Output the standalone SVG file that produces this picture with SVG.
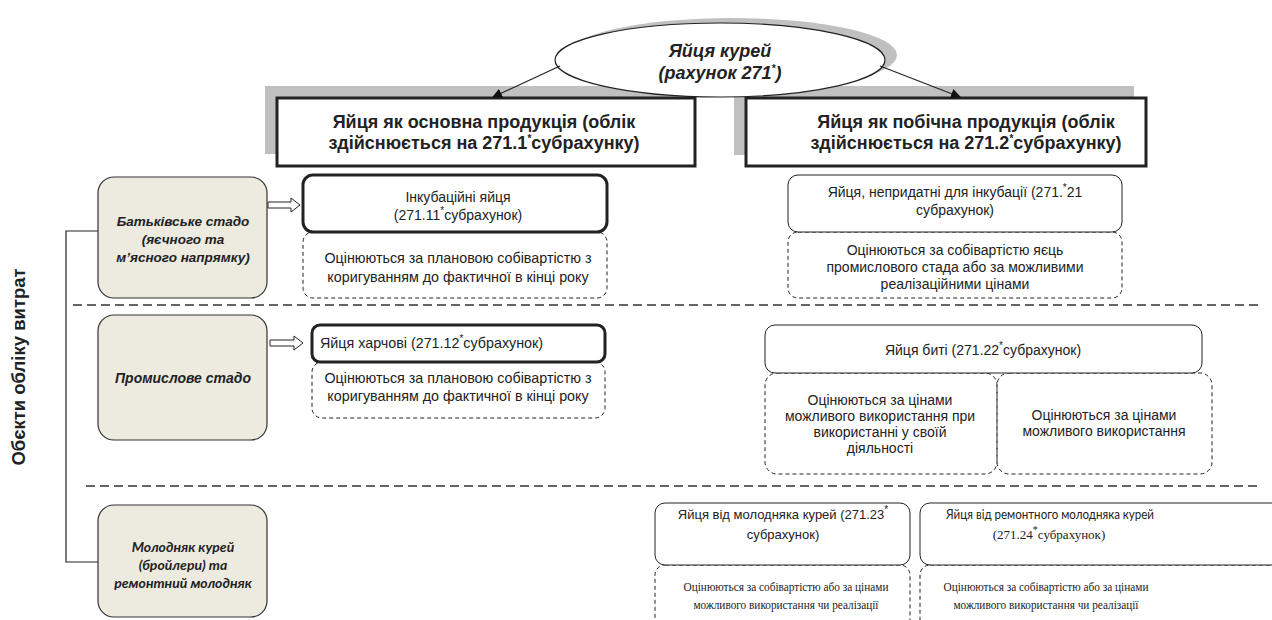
<svg xmlns="http://www.w3.org/2000/svg" width="1272" height="620" viewBox="0 0 1272 620">
<style>
text{font-family:"Liberation Sans",Arial,sans-serif;fill:#222}
.hdr{font-size:18px;font-weight:bold;text-anchor:middle}
.ell{font-size:18px;font-weight:bold;font-style:italic;text-anchor:middle}
.beige{fill:#EDEAE0;stroke:#333;stroke-width:1.2}
.bt{font-size:13.5px;font-weight:bold;font-style:italic;text-anchor:middle}
.btl{font-family:Lato,"Liberation Sans",sans-serif;font-size:14px;font-weight:bold;font-style:italic;text-anchor:middle}
.solid{fill:#fff;stroke:#222;stroke-width:1}
.thick{fill:#fff;stroke:#222;stroke-width:3}
.dash{fill:none;stroke:#222;stroke-width:1;stroke-dasharray:4 3}
.t14{font-size:14px;text-anchor:middle}
.t13{font-size:13px;text-anchor:middle}
.ser{font-family:"Liberation Serif","Times New Roman",serif;font-size:13px;text-anchor:middle}
.nar{font-family:Lato,"Liberation Sans",sans-serif;font-size:13px;text-anchor:middle}
.sep{stroke:#333;stroke-width:1.3;stroke-dasharray:9 5;fill:none}
.sup{font-size:10px}
.blk{fill:#fff;stroke:#222;stroke-width:1}
.shadow{fill:#C0C0C0}
</style>
<defs>
<marker id="ah" markerWidth="10" markerHeight="10" refX="9" refY="5" orient="auto" markerUnits="userSpaceOnUse">
<path d="M0,0 L10,5 L0,10 Z" fill="#111"/>
</marker>
</defs>

<g id="header-left">
<rect class="shadow" x="265" y="86" width="418" height="68"/>
<rect class="thick" x="277" y="98" width="418" height="68"/>
<text class="hdr" x="484" y="128">Яйця як основна продукція (облік</text>
<text class="hdr" x="484" y="149">здійснюється на 271.1<tspan class="sup" dy="-7">*</tspan><tspan dy="7">субрахунку)</tspan></text>
</g>
<g id="header-right">
<rect class="shadow" x="734" y="86" width="400" height="69"/>
<rect class="thick" x="746" y="98" width="400" height="68"/>
<text class="hdr" x="966" y="128">Яйця як побічна продукція (облік</text>
<text class="hdr" x="966" y="149">здійснюється на 271.2<tspan class="sup" dy="-7">*</tspan><tspan dy="7">субрахунку)</tspan></text>
</g>

<g id="root">
<ellipse class="shadow" cx="732" cy="55" rx="165" ry="37"/>
<ellipse cx="720" cy="60" rx="165" ry="37" fill="#fff" stroke="#222" stroke-width="1.2"/>
<text class="ell" x="720" y="57">Яйця курей</text>
<text class="ell" x="720" y="79">(рахунок 271<tspan class="sup" dy="-7">*</tspan><tspan dy="7">)</tspan></text>
</g>

<g id="connectors">
<line x1="560" y1="66" x2="493" y2="97" stroke="#222" stroke-width="1.2" marker-end="url(#ah)"/>
<line x1="880" y1="66" x2="960" y2="97" stroke="#222" stroke-width="1.2" marker-end="url(#ah)"/>
<path d="M98,231 H66 V562 H98" fill="none" stroke="#222" stroke-width="1.2"/>
<path class="blk" d="M268,202 H291 V198 L300,205 L291,212 V208 H268 Z"/>
<path class="blk" d="M270,340 H294 V336 L303,343 L294,350 V346 H270 Z"/>
</g>

<g id="separators">
<line class="sep" x1="73" y1="305" x2="1262" y2="305"/>
<line class="sep" x1="86" y1="486" x2="1262" y2="486"/>
</g>

<g id="axis-label">
<text transform="translate(25,367) rotate(-90)" style="font-size:18.5px;font-weight:bold;text-anchor:middle">Обєкти обліку витрат</text>
</g>

<g id="parent-flock">
<rect class="beige" x="98" y="177" width="169" height="121" rx="16"/>
<text class="bt" x="183" y="226">Батьківське стадо</text>
<text class="bt" x="183" y="244">(яєчного та</text>
<text class="bt" x="183" y="262">м’ясного напрямку)</text>
</g>
<g id="industrial-flock">
<rect class="beige" x="98" y="315" width="169" height="125" rx="16"/>
<text class="bt" x="183" y="383" style="font-size:14px">Промислове стадо</text>
</g>
<g id="young-flock">
<rect class="beige" x="98" y="505" width="169" height="112" rx="16"/>
<text class="btl" x="183" y="552">Молодняк курей</text>
<text class="btl" x="183" y="570">(бройлери) та</text>
<text class="btl" x="183" y="588">ремонтний молодняк</text>
</g>

<g id="incubation">
<rect class="dash" x="303" y="232" width="304" height="66" rx="10"/>
<rect class="thick" x="303" y="175" width="304" height="57" rx="10"/>
<text class="t14" x="458" y="202">Інкубаційні яйця</text>
<text class="t14" x="458" y="220">(271.11<tspan class="sup" dy="-6">*</tspan><tspan dy="6">субрахунок)</tspan></text>
<text class="t14" x="458" y="263" style="font-size:14.3px">Оцінюються за плановою собівартістю з</text>
<text class="t14" x="458" y="282" style="font-size:14.3px">коригуванням до фактичної в кінці року</text>
</g>

<g id="unfit">
<rect class="dash" x="788" y="232" width="334" height="66" rx="10"/>
<rect class="solid" x="788" y="175" width="334" height="57" rx="10"/>
<text class="t14" x="955" y="197">Яйця, непридатні для інкубації (271.<tspan class="sup" dy="-6">*</tspan><tspan dy="6">21</tspan></text>
<text class="t14" x="955" y="215">субрахунок)</text>
<text class="t14" x="955" y="255">Оцінюються за собівартістю яєць</text>
<text class="t14" x="955" y="272">промислового стада або за можливими</text>
<text class="t14" x="955" y="289">реалізаційними цінами</text>
</g>

<g id="food">
<rect class="dash" x="312" y="362" width="293" height="56" rx="10"/>
<rect class="thick" x="312" y="325" width="293" height="37" rx="8"/>
<text x="320" y="348" style="font-size:14.3px">Яйця харчові (271.12<tspan class="sup" dy="-6">*</tspan><tspan dy="6">субрахунок)</tspan></text>
<text class="t14" x="458" y="383" style="font-size:14.3px">Оцінюються за плановою собівартістю з</text>
<text class="t14" x="458" y="401" style="font-size:14.3px">коригуванням до фактичної в кінці року</text>
</g>

<g id="broken">
<rect class="dash" x="765" y="373" width="232" height="101" rx="12"/>
<rect class="dash" x="997" y="373" width="215" height="101" rx="12"/>
<rect class="solid" x="765" y="325" width="437" height="48" rx="10"/>
<text class="t14" x="983" y="355">Яйця биті (271.22<tspan class="sup" dy="-6">*</tspan><tspan dy="6">субрахунок)</tspan></text>
<text class="t14" x="880" y="405">Оцінюються за цінами</text>
<text class="t14" x="880" y="421">можливого використання при</text>
<text class="t14" x="880" y="437">використанні у своїй</text>
<text class="t14" x="880" y="453">діяльності</text>
<text class="t14" x="1104" y="420">Оцінюються за цінами</text>
<text class="t14" x="1104" y="436">можливого використання</text>
</g>

<g id="young-eggs">
<rect class="dash" x="655" y="565" width="255" height="70" rx="10"/>
<rect class="solid" x="655" y="503" width="255" height="62" rx="10"/>
<text class="t13" x="783" y="519">Яйця від молодняка курей (271.23<tspan class="sup" dy="-6">*</tspan></text>
<text class="t13" x="783" y="539">субрахунок)</text>
<text class="ser" x="786" y="591" textLength="205" lengthAdjust="spacingAndGlyphs">Оцінюються за собівартістю або за цінами</text>
<text class="ser" x="786" y="609" textLength="185" lengthAdjust="spacingAndGlyphs">можливого використання чи реалізації</text>
</g>

<g id="repair-eggs">
<rect class="dash" x="920" y="565" width="365" height="70" rx="10"/>
<rect class="solid" x="920" y="503" width="365" height="62" rx="10"/>
<text class="nar" x="1050" y="519" textLength="208" lengthAdjust="spacingAndGlyphs">Яйця від ремонтного молодняка курей</text>
<text class="ser" x="1049" y="539">(271.24<tspan class="sup" dy="-6">*</tspan><tspan dy="6">субрахунок)</tspan></text>
<text class="ser" x="1046" y="591" textLength="205" lengthAdjust="spacingAndGlyphs">Оцінюються за собівартістю або за цінами</text>
<text class="ser" x="1046" y="609" textLength="185" lengthAdjust="spacingAndGlyphs">можливого використання чи реалізації</text>
</g>
</svg>
